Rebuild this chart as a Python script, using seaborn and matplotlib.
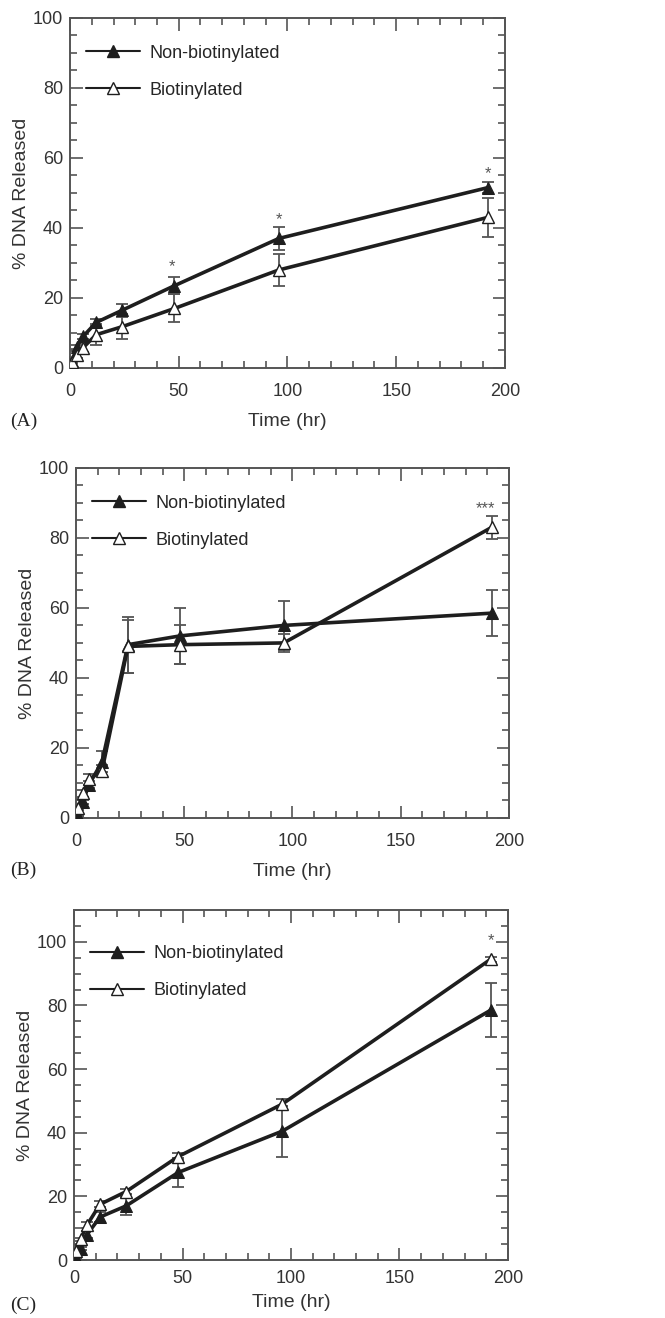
import numpy as np
import pandas as pd
import seaborn as sns
import matplotlib.pyplot as plt
from matplotlib.lines import Line2D
from matplotlib.ticker import MultipleLocator

# time points (hr)
time_hr = [1, 3, 6, 12, 24, 48, 96, 192]

# panel A
a_non = [2.0, 6.0, 9.0, 13.0, 16.5, 23.5, 37.0, 51.5]
a_non_err = [0, 0.5, 0.8, 1.0, 1.8, 2.5, 3.2, 1.5]
a_bio = [1.8, 3.8, 5.8, 9.5, 11.8, 17.0, 28.0, 43.0]
a_bio_err = [0.5, 1.0, 1.2, 3.0, 3.5, 4.0, 4.5, 5.5]

# panel B
b_non = [0.5, 4.5, 9.5, 16.0, 49.5, 52.0, 55.0, 58.5]
b_non_err = [0, 0.5, 1.0, 3.0, 8.0, 8.0, 7.0, 6.5]
b_bio = [2.8, 7.0, 11.0, 13.5, 49.0, 49.5, 50.0, 83.0]
b_bio_err = [0.5, 1.0, 1.5, 1.5, 7.5, 5.5, 2.5, 3.3]

# panel C
c_non = [0.5, 3.5, 8.0, 13.5, 17.0, 27.5, 40.5, 78.5]
c_non_err = [0, 0.5, 1.0, 1.5, 2.8, 4.5, 8.0, 8.5]
c_bio = [2.8, 6.5, 11.0, 17.5, 21.5, 32.5, 49.0, 94.5]
c_bio_err = [0.5, 0.5, 1.0, 1.0, 0.8, 1.0, 1.5, 0.8]

# significance stars: (x, y, text)
a_stars = [(47, 29, "*"), (96, 42.5, "*"), (192, 55.5, "*")]
b_stars = [(189, 88.5, "***")]
c_stars = [(192, 100.5, "*")]

sns.set_style("ticks")
plt.rcParams['font.family'] = ['Liberation Sans', 'DejaVu Sans']

LINE = "#1e1e1e"
GREY = "#555555"
TXT = "#333333"


def draw_panel(ax, non, non_err, bio, bio_err, stars, ymax, xpad, xlabpad, leg_y):
    df = pd.DataFrame({"Time": time_hr * 2,
                       "Release": non + bio,
                       "Group": ["Non-biotinylated"] * 8 + ["Biotinylated"] * 8})
    for y, err in [(non, non_err), (bio, bio_err)]:
        ax.errorbar(time_hr, y, yerr=err, fmt="none", ecolor=GREY,
                    elinewidth=1.3, capsize=4, capthick=1.3, zorder=2)
    sns.lineplot(data=df[df.Group == "Non-biotinylated"], x="Time", y="Release",
                 ax=ax, color=LINE, lw=2.6, marker="^", markersize=8.5,
                 markerfacecolor=LINE, markeredgecolor=LINE, zorder=3)
    sns.lineplot(data=df[df.Group == "Biotinylated"], x="Time", y="Release",
                 ax=ax, color=LINE, lw=2.6, marker="^", markersize=8.5,
                 markerfacecolor="white", markeredgecolor=LINE,
                 markeredgewidth=1.0, zorder=4)
    for x, y, s in stars:
        ax.text(x, y, s, ha="center", va="center", fontsize=12, color=GREY)

    ax.set_xlim(0, 200)
    ax.set_ylim(0, ymax)
    ax.xaxis.set_major_locator(MultipleLocator(50))
    ax.xaxis.set_minor_locator(MultipleLocator(10))
    ax.yaxis.set_major_locator(MultipleLocator(20))
    ax.yaxis.set_minor_locator(MultipleLocator(5))
    ax.tick_params(which="both", direction="in", top=True, right=True,
                   color=GREY, labelsize=13, labelcolor=TXT, width=1.2)
    ax.tick_params(which="major", length=9)
    ax.tick_params(which="minor", length=5)
    ax.tick_params(axis="x", which="major", pad=xpad)
    ax.tick_params(axis="y", which="major", pad=5)
    ax.set_yticks([t for t in range(0, 101, 20)])
    for sp in ax.spines.values():
        sp.set_color(GREY)
        sp.set_linewidth(1.4)
        sp.set_visible(True)
    ax.set_xlabel("Time (hr)", fontsize=14, color=TXT, labelpad=xlabpad)
    ax.set_ylabel("% DNA Released", fontsize=14, color=TXT, labelpad=2)

    handles = [
        Line2D([], [], color=LINE, lw=1.5, marker="^", markersize=8.5,
               markerfacecolor=LINE, markeredgecolor=LINE),
        Line2D([], [], color=LINE, lw=1.5, marker="^", markersize=8.5,
               markerfacecolor="white", markeredgecolor=LINE),
    ]
    ax.legend(handles, ["Non-biotinylated", "Biotinylated"], loc="upper left",
              bbox_to_anchor=(0.0, leg_y), frameon=False, fontsize=13,
              handlelength=3.0, labelspacing=1.1, borderaxespad=0.5,
              handletextpad=0.5)


fig = plt.figure(figsize=(6.65, 13.18), dpi=100)
ax_a = fig.add_axes([0.1053, 0.7208, 0.654, 0.2656])
ax_b = fig.add_axes([0.1143, 0.3794, 0.651, 0.2656])
ax_c = fig.add_axes([0.1113, 0.0440, 0.6526, 0.2656])

draw_panel(ax_a, a_non, a_non_err, a_bio, a_bio_err, a_stars, 100, 11, 9, 0.97)
draw_panel(ax_b, b_non, b_non_err, b_bio, b_bio_err, b_stars, 100, 11, 9, 0.97)
draw_panel(ax_c, c_non, c_non_err, c_bio, c_bio_err, c_stars, 110, 7, 5, 0.945)

for letter, y in [("(A)", 0.6806), ("(B)", 0.3399), ("(C)", 0.0099)]:
    fig.text(0.015, y, letter, fontsize=14, family="Liberation Serif",
             color="#222222", va="center", ha="left")

fig.savefig("out.png", dpi=100, facecolor="white")
